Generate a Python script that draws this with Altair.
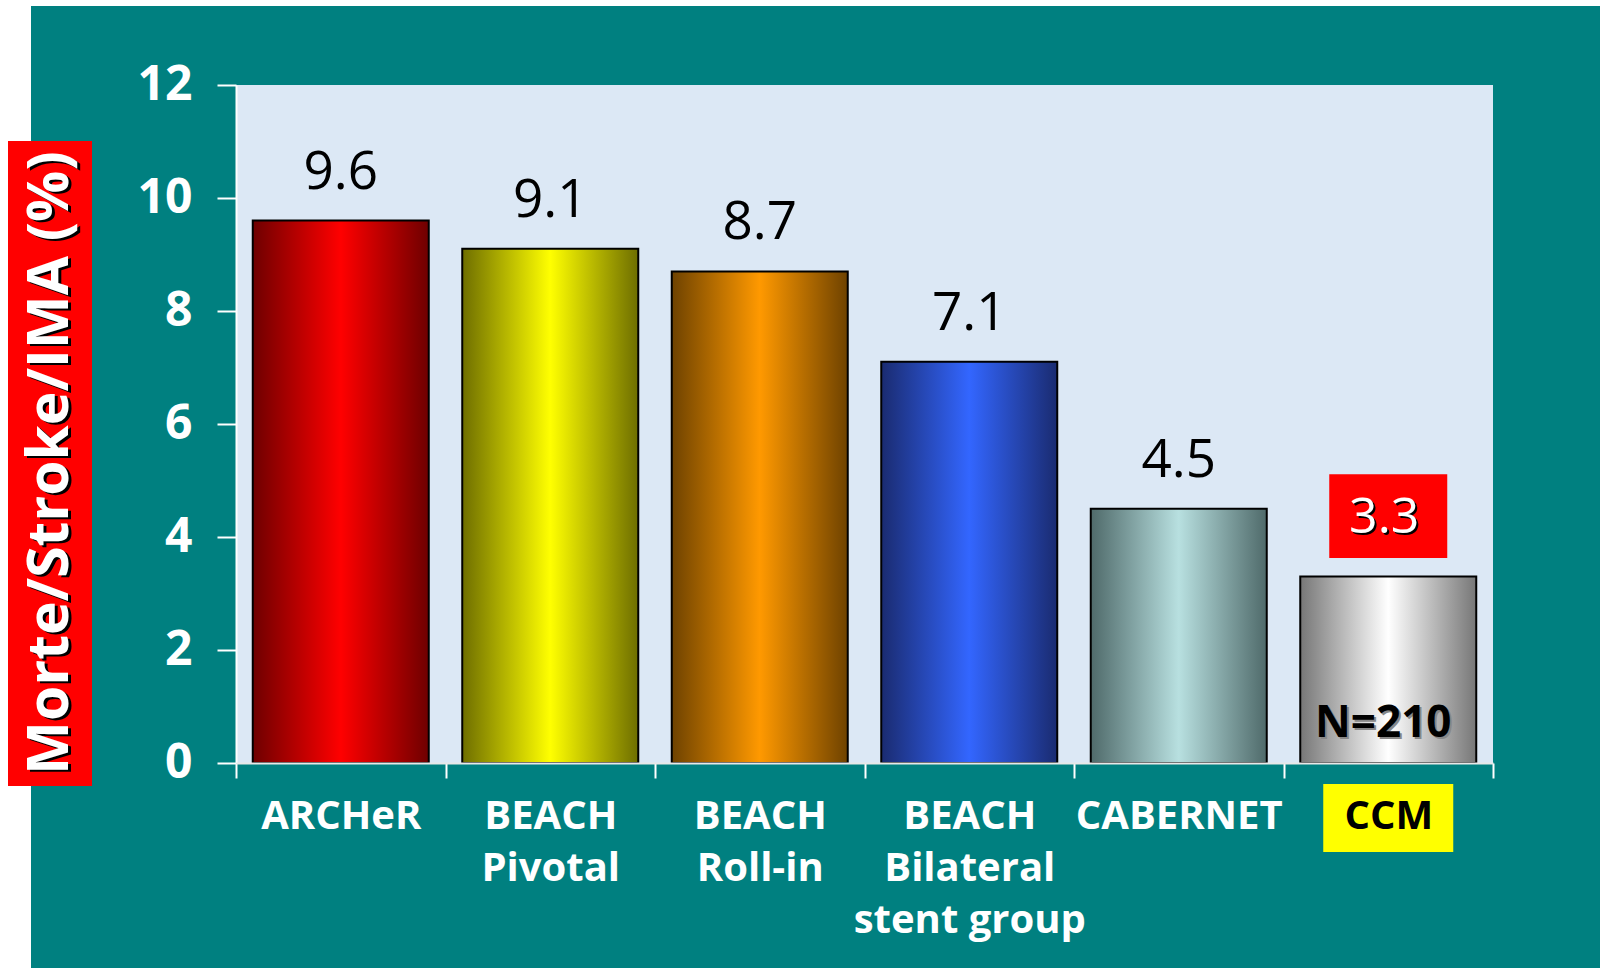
import altair as alt
import pandas as pd

# ---- data ----
categories = ["ARCHeR", "BEACH|Pivotal", "BEACH|Roll-in", "BEACH|Bilateral|stent group", "CABERNET", "CCM"]
values = [9.6, 9.1, 8.7, 7.1, 4.5, 3.3]
edge_colors = ["#6e0000", "#6e6e00", "#6e4200", "#1a2b70", "#4f6a6a", "#777777"]
mid_colors = ["#ff0000", "#ffff00", "#ff9900", "#3366ff", "#b8e0e0", "#ffffff"]
highlight = "CCM"
note_text = ["N=210"]
y_title = "Morte/Stroke/IMA (%)"
y_ticks = [0, 2, 4, 6, 8, 10, 12]

FONT = "Open Sans"
W, H = 1257, 678
LEFT, TOP, RIGHT, BOTTOM = 236, 85, 107, 205
BAR_W = 176

df = pd.DataFrame({"cat": categories, "val": values})
dummy = pd.DataFrame({"k": [0]})

xscale = alt.Scale(domain=categories, paddingInner=0, paddingOuter=0)
yscale = alt.Scale(domain=[0, 12], nice=False)

x_axis = alt.Axis(
    title=None, labelAngle=0, labelExpr="split(datum.label, '|')",
    labelFont=FONT, labelFontSize=40, labelFontWeight="bold",
    labelColor={"condition": {"test": "datum.value == 'CCM'", "value": "black"}, "value": "white"},
    labelLineHeight=52, labelPadding=18, labelLimit=400,
    tickBand="extent", tickSize=15, tickColor="white", tickWidth=2,
    domainColor="#e8e8e8", domainWidth=2, zindex=1,
)
y_axis = alt.Axis(
    title=None, values=y_ticks, grid=False,
    labelFont=FONT, labelFontSize=48, labelFontWeight="bold", labelColor="white",
    labelPadding=25, tickSize=19, tickColor="white", tickWidth=2,
    domainColor="white", domainWidth=2,
)
x_enc = alt.X("cat:N", scale=xscale, sort=categories, axis=x_axis)
y_enc = alt.Y("val:Q", scale=yscale, axis=y_axis)

base = alt.Chart(df)

# white strips outside teal panel
strip_top = alt.Chart(dummy).mark_rect(color="white").encode(
    x=alt.value(-LEFT), x2=alt.value(1600 - LEFT), y=alt.value(-TOP), y2=alt.value(6 - TOP))
strip_left = alt.Chart(dummy).mark_rect(color="white").encode(
    x=alt.value(-LEFT), x2=alt.value(31 - LEFT), y=alt.value(-TOP), y2=alt.value(968 - TOP))

# y title box + text
title_box = alt.Chart(dummy).mark_rect(color="#ff0000").encode(
    x=alt.value(8 - LEFT), x2=alt.value(92 - LEFT), y=alt.value(141 - TOP), y2=alt.value(786 - TOP))
title_shadow = alt.Chart(dummy).mark_text(
    text=y_title, angle=270, font=FONT, fontSize=57, fontWeight="bold", color="black",
    align="center", baseline="middle").encode(x=alt.value(51 - LEFT + 3), y=alt.value(463 - TOP + 2))
title_text = alt.Chart(dummy).mark_text(
    text=y_title, angle=270, font=FONT, fontSize=57, fontWeight="bold", color="white",
    align="center", baseline="middle").encode(x=alt.value(51 - LEFT), y=alt.value(463 - TOP))

# gradient bars
bar_layers = []
for c, e, m in zip(categories, edge_colors, mid_colors):
    grad = alt.Gradient(
        gradient="linear", x1=0, x2=1, y1=0, y2=0,
        stops=[alt.GradientStop(color=e, offset=0),
               alt.GradientStop(color=m, offset=0.5),
               alt.GradientStop(color=e, offset=1)])
    bar_layers.append(
        base.transform_filter(alt.datum.cat == c)
        .mark_bar(color=grad, stroke="black", strokeWidth=2, size=BAR_W)
        .encode(x=x_enc, y=y_enc)
    )

# value labels
labels = base.transform_filter(alt.datum.cat != highlight).mark_text(
    font=FONT, fontSize=53, color="black", baseline="alphabetic", dy=-32
).encode(x=x_enc, y=y_enc, text=alt.Text("val:Q", format=".1f"))

# highlighted label box
hl_box = base.transform_filter(alt.datum.cat == highlight).transform_calculate(
    hi="datum.val + 1.81").transform_calculate(val="datum.val + 0.33").mark_bar(
    size=118, color="#ff0000").encode(x=x_enc, y=y_enc, y2="hi:Q")
hl_shadow = base.transform_filter(alt.datum.cat == highlight).mark_text(
    font=FONT, fontSize=50, color="black", baseline="alphabetic", dy=-42, dx=-2
).encode(x=x_enc, y=y_enc, text=alt.Text("val:Q", format=".1f"))
hl_text = base.transform_filter(alt.datum.cat == highlight).mark_text(
    font=FONT, fontSize=50, color="white", baseline="alphabetic", dy=-44, dx=-4
).encode(x=x_enc, y=y_enc, text=alt.Text("val:Q", format=".1f"))

# N=210 note
note_df = pd.DataFrame({"cat": [highlight], "note": note_text})
note_shadow = alt.Chart(note_df).mark_text(
    font=FONT, fontSize=44, fontWeight="bold", color="#888888", baseline="alphabetic", dx=-3
).encode(x=x_enc, y=alt.value(739 - TOP), text="note:N")
note = alt.Chart(note_df).mark_text(
    font=FONT, fontSize=44, fontWeight="bold", color="black", baseline="alphabetic", dx=-5
).encode(x=x_enc, y=alt.value(737 - TOP), text="note:N")

# yellow box behind CCM tick label
ccm_box = base.transform_filter(alt.datum.cat == highlight).mark_bar(
    size=130, color="#ffff00").encode(x=x_enc, y=alt.value(784 - TOP), y2=alt.value(852 - TOP))

chart = alt.layer(
    strip_top, strip_left, title_box, title_shadow, title_text,
    *bar_layers, labels, hl_box, hl_shadow, hl_text, note_shadow, note, ccm_box,
).properties(
    width=W, height=H,
    autosize=alt.AutoSizeParams(type="none"),
    padding={"left": LEFT, "top": TOP, "right": RIGHT, "bottom": BOTTOM},
    background="#008080",
).configure_view(fill="#dce8f5", strokeWidth=0)

chart.save("out.html", embed_options={"renderer": "svg", "actions": False})
